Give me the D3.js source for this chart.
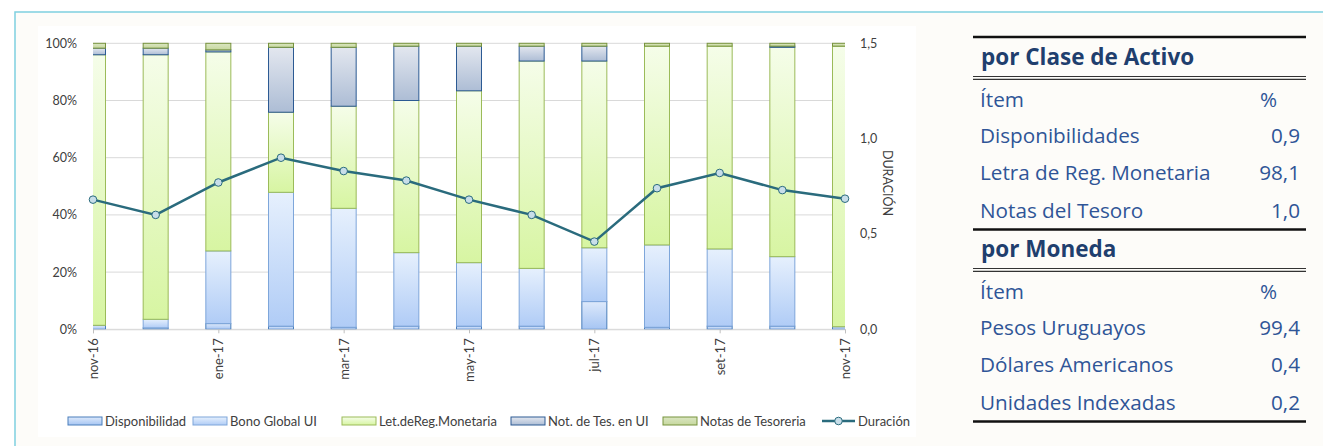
<!DOCTYPE html>
<html>
<head>
<meta charset="utf-8">
<script src="https://cdn.jsdelivr.net/npm/d3@7"></script>
<style>
  body { margin: 0; background: #ffffff; }
  svg { display: block; font-family: Lato, "Open Sans", sans-serif; }
</style>
</head>
<body>
<div id="chart"></div>
<script>
// data
let months = ["nov-16", "dic-16", "ene-17", "feb-17", "mar-17", "abr-17", "may-17",
  "jun-17", "jul-17", "ago-17", "set-17", "oct-17", "nov-17"];
let shownMonths = ["nov-16", "ene-17", "mar-17", "may-17", "jul-17", "set-17", "nov-17"];

let disponibilidad = [1.4, 0.5, 2.0, 1.1, 0.7, 1.1, 1.1, 1.1, 9.7, 0.7, 1.1, 1.1, 0.9];
let bonoGlobalUI = [0, 3.0, 25.4, 46.8, 41.6, 25.7, 22.2, 20.2, 18.8, 28.8, 27.0, 24.3, 0];
let letRegMonetaria = [94.6, 92.5, 69.6, 28.0, 35.7, 53.2, 60.1, 72.5, 65.3, 69.5, 70.9, 73.2, 98.1];
let notTesUI = [2.3, 2.3, 0.7, 22.7, 20.6, 19.0, 15.6, 5.2, 5.2, 0, 0, 0.4, 0];
let notasTesoreria = [1.7, 1.7, 2.3, 1.4, 1.4, 1.0, 1.0, 1.0, 1.0, 1.0, 1.0, 1.0, 1.0];
let duracion = [0.68, 0.60, 0.77, 0.90, 0.83, 0.78, 0.68, 0.60, 0.46, 0.74, 0.82, 0.73, 0.685];

let pctTicks = [0, 20, 40, 60, 80, 100];
let durTicks = [0, 0.5, 1.0, 1.5];

let claseItems = ["Disponibilidades", "Letra de Reg. Monetaria", "Notas del Tesoro"];
let claseValues = ["0,9", "98,1", "1,0"];
let monedaItems = ["Pesos Uruguayos", "Dólares Americanos", "Unidades Indexadas"];
let monedaValues = ["99,4", "0,4", "0,2"];

let seriesNames = ["Disponibilidad", "Bono Global UI", "Let.deReg.Monetaria", "Not. de Tes. en UI", "Notas de Tesoreria"];
let seriesData = [disponibilidad, bonoGlobalUI, letRegMonetaria, notTesUI, notasTesoreria];
let seriesStyle = [
  { top: "#dde9fb", bottom: "#a6c5f3", stroke: "#4a7ebb" },
  { top: "#e6f0fd", bottom: "#b0ccf6", stroke: "#7ea6da" },
  { top: "#f5fde9", bottom: "#d7f5a2", stroke: "#9bbb59" },
  { top: "#e3e7ef", bottom: "#adbdd5", stroke: "#2c5a93" },
  { top: "#dbe6c2", bottom: "#c6d89e", stroke: "#77933c" }
];

let W = 1323, H = 446;
let svg = d3.select("#chart").append("svg").attr("width", W).attr("height", H);

// frame
svg.append("rect").attr("x", 15).attr("y", 12).attr("width", W).attr("height", H)
  .attr("fill", "#fdfcf9").attr("stroke", "#7fd0e0").attr("stroke-width", 1.5);
svg.append("rect").attr("x", 38).attr("y", 26).attr("width", 878).attr("height", 411)
  .attr("fill", "#ffffff");

let pLeft = 93, pRight = 845, pTop = 43.3, pBottom = 329.3;
let x = d3.scalePoint().domain(months).range([pLeft, pRight]);
let y = d3.scaleLinear().domain([0, 100]).range([pBottom, pTop]);
let y2 = d3.scaleLinear().domain([0, 1.5]).range([pBottom, pTop]);
let barW = 25;

let defs = svg.append("defs");
seriesStyle.forEach(function (s, i) {
  let g = defs.append("linearGradient").attr("id", "grad" + i)
    .attr("x1", 0).attr("y1", 0).attr("x2", 0).attr("y2", 1);
  g.append("stop").attr("offset", "0%").attr("stop-color", s.top);
  g.append("stop").attr("offset", "100%").attr("stop-color", s.bottom);
});
defs.append("clipPath").attr("id", "plotclip")
  .append("rect").attr("x", pLeft).attr("y", 0).attr("width", pRight - pLeft).attr("height", H);

// gridlines
svg.append("g").selectAll("line").data(pctTicks).enter().append("line")
  .attr("x1", pLeft).attr("x2", pRight)
  .attr("y1", function (d) { return y(d); })
  .attr("y2", function (d) { return y(d); })
  .attr("stroke", "#d9d9d9").attr("stroke-width", 1);

// stacked bars
let stackRows = months.map(function (m, i) {
  let row = { month: m };
  seriesNames.forEach(function (n, k) { row[n] = seriesData[k][i]; });
  return row;
});
let stacked = d3.stack().keys(seriesNames)(stackRows);

let barG = svg.append("g").attr("clip-path", "url(#plotclip)");
barG.selectAll("g").data(stacked).enter().append("g")
  .attr("fill", function (d, i) { return "url(#grad" + i + ")"; })
  .attr("stroke", function (d, i) { return seriesStyle[i].stroke; })
  .selectAll("rect")
  .data(function (d) { return d.filter(function (p) { return p[1] - p[0] > 0; }); })
  .enter().append("rect")
  .attr("x", function (d) { return x(d.data.month) - barW / 2; })
  .attr("y", function (d) { return y(d[1]); })
  .attr("width", barW)
  .attr("height", function (d) { return y(d[0]) - y(d[1]); })
  .attr("stroke-width", 1);

// x axis
let xAxis = svg.append("g").attr("transform", "translate(0," + pBottom + ")")
  .call(d3.axisBottom(x).tickValues(shownMonths).tickSize(4).tickPadding(6));
xAxis.select(".domain").attr("stroke", "#d9d9d9");
xAxis.selectAll(".tick line").attr("stroke", "#bfbfbf");
xAxis.selectAll("text")
  .attr("transform", "rotate(-90)")
  .attr("text-anchor", "end")
  .attr("x", -9).attr("y", 0).attr("dy", "0.35em")
  .attr("fill", "#404040").style("font-size", "13px").style("font-family", "Lato");

// left axis
let yAxis = svg.append("g").attr("transform", "translate(" + (pLeft - 13) + ",0)")
  .call(d3.axisLeft(y).tickValues(pctTicks).tickSize(0).tickFormat(function (d) { return d + "%"; }));
yAxis.select(".domain").remove();
yAxis.selectAll("text").attr("fill", "#404040").style("font-size", "12.5px").style("font-family", "Lato");

// right axis
let y2Axis = svg.append("g").attr("transform", "translate(" + (pRight + 12) + ",0)")
  .call(d3.axisRight(y2).tickValues(durTicks).tickSize(0)
    .tickFormat(function (d) { return d3.format(".1f")(d).replace(".", ","); }));
y2Axis.select(".domain").remove();
y2Axis.selectAll("text").attr("fill", "#404040").style("font-size", "12.5px").style("font-family", "Lato");

svg.append("text").attr("transform", "translate(887,183) rotate(90)")
  .attr("text-anchor", "middle").attr("dy", "0.35em")
  .attr("fill", "#404040").style("font-size", "12.5px").text("DURACIÓN");

// duration line
let lineColor = "#2a6b7d";
let line = d3.line()
  .x(function (d, i) { return x(months[i]); })
  .y(function (d) { return y2(d); });
svg.append("path").datum(duracion).attr("d", line)
  .attr("fill", "none").attr("stroke", lineColor).attr("stroke-width", 2.5);
svg.append("g").selectAll("circle").data(duracion).enter().append("circle")
  .attr("cx", function (d, i) { return x(months[i]); })
  .attr("cy", function (d) { return y2(d); })
  .attr("r", 3.8)
  .attr("fill", "#c8dee9").attr("stroke", lineColor).attr("stroke-width", 1);

// legend
let legendX = [68, 193, 342, 511, 663];
let legend = svg.append("g");
seriesNames.forEach(function (n, i) {
  legend.append("rect").attr("x", legendX[i]).attr("y", 417).attr("width", 34).attr("height", 8)
    .attr("fill", "url(#grad" + i + ")").attr("stroke", seriesStyle[i].stroke).attr("stroke-width", 1);
  legend.append("text").attr("x", legendX[i] + 37).attr("y", 421).attr("dy", "0.35em")
    .attr("fill", "#404040").style("font-size", "13px").text(n);
});
legend.append("line").attr("x1", 822).attr("x2", 855).attr("y1", 421).attr("y2", 421)
  .attr("stroke", lineColor).attr("stroke-width", 2.5);
legend.append("circle").attr("cx", 838.5).attr("cy", 421).attr("r", 3.8)
  .attr("fill", "#c8dee9").attr("stroke", lineColor).attr("stroke-width", 1);
legend.append("text").attr("x", 858).attr("y", 421).attr("dy", "0.35em")
  .attr("fill", "#404040").style("font-size", "13px").text("Duración");

// tables
let tX0 = 973, tX1 = 1306;
let tFont = "'Open Sans', sans-serif";
let rowSize = "20.7px";
function thick(yy) {
  svg.append("line").attr("x1", tX0).attr("x2", tX1).attr("y1", yy).attr("y2", yy)
    .attr("stroke", "#111111").attr("stroke-width", 2.5);
}
function dbl(yy) {
  [yy, yy + 2.8].forEach(function (v) {
    svg.append("line").attr("x1", tX0).attr("x2", tX1).attr("y1", v).attr("y2", v)
      .attr("stroke", "#333333").attr("stroke-width", 1.2);
  });
}
function table(title, items, values, titleY, topLine) {
  if (topLine) thick(titleY - 28);
  svg.append("text").attr("x", 981).attr("y", titleY)
    .attr("fill", "#1f3f6e").style("font-family", tFont)
    .style("font-size", "22.5px").style("font-weight", "bold").text(title);
  dbl(titleY + 11.5);
  let rowsY = [41.5, 78, 115, 153];
  svg.append("text").attr("x", 980).attr("y", titleY + rowsY[0]).style("font-family", tFont)
    .attr("fill", "#2f5597").style("font-size", rowSize).text("Ítem");
  svg.append("text").attr("x", 1260).attr("y", titleY + rowsY[0]).style("font-family", tFont)
    .attr("fill", "#2f5597").style("font-size", rowSize).text("%");
  items.forEach(function (it, i) {
    svg.append("text").attr("x", 980).attr("y", titleY + rowsY[i + 1]).style("font-family", tFont)
      .attr("fill", "#2f5597").style("font-size", rowSize).text(it);
    svg.append("text").attr("x", 1300).attr("y", titleY + rowsY[i + 1]).attr("text-anchor", "end")
      .style("font-family", tFont)
      .attr("fill", "#2f5597").style("font-size", rowSize).text(values[i]);
  });
  thick(titleY + 164.5);
}
table("por Clase de Activo", claseItems, claseValues, 65, true);
table("por Moneda", monedaItems, monedaValues, 257, false);
</script>
</body>
</html>
